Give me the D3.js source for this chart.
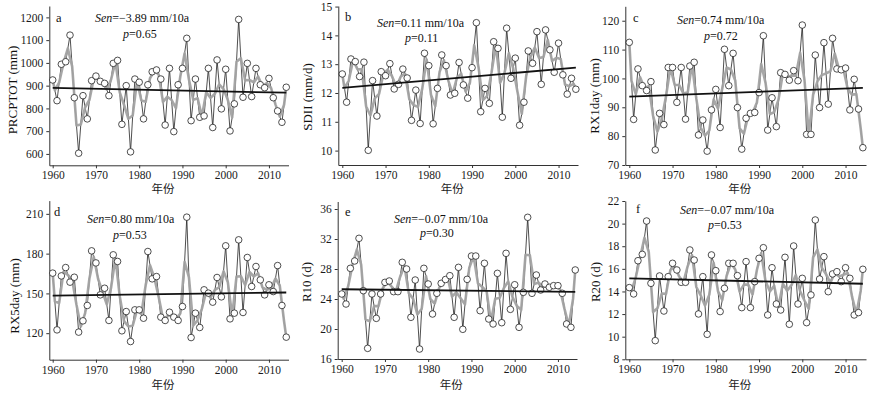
<!DOCTYPE html>
<html>
<head>
<meta charset="utf-8">
<script src="https://cdn.jsdelivr.net/npm/d3@7"></script>
<style>
  html, body { margin: 0; padding: 0; background: #fff; }
  svg { display: block; }
</style>
</head>
<body>
<div id="chart"></div>
<script>
// ---------------- data ----------------
const years = d3.range(1960, 2015);
const xTickYears = [1960, 1970, 1980, 1990, 2000, 2010];

const prcptot = [925, 834, 994, 1005, 1122, 847, 603, 856, 754, 922,
  942, 919, 910, 856, 998, 1011, 730, 900, 609, 929,
  915, 754, 904, 961, 969, 929, 727, 976, 698, 904,
  976, 1108, 746, 929, 761, 767, 976, 716, 1013, 798,
  972, 701, 820, 1191, 849, 998, 852, 976, 904, 891,
  932, 847, 789, 739, 893];
const sdii = [12.66, 11.68, 13.18, 13.09, 12.57, 13.07, 10.01, 12.43, 11.20, 12.74,
  12.60, 13.02, 12.14, 12.30, 12.83, 12.52, 11.05, 12.10, 10.94, 13.38,
  12.95, 10.93, 12.16, 13.32, 12.95, 11.93, 11.99, 13.06, 12.28, 11.82,
  12.88, 14.44, 11.35, 12.16, 11.64, 13.78, 13.55, 11.16, 14.25, 12.51,
  13.21, 10.88, 11.68, 13.46, 13.03, 14.13, 12.30, 14.19, 13.50, 12.72,
  13.73, 12.63, 11.96, 12.51, 12.13];
const rx1day = [112.5, 85.8, 103.3, 97.5, 95.8, 98.9, 75.2, 87.9, 84.0, 103.8,
  103.8, 91.7, 103.8, 85.9, 104.3, 105.6, 80.4, 85.6, 74.8, 89.1,
  96.2, 83.0, 110.1, 97.5, 108.7, 89.9, 75.5, 86.2, 87.9, 88.2,
  95.1, 114.8, 82.1, 93.3, 83.3, 102.0, 101.4, 99.4, 102.7, 99.2,
  118.5, 80.6, 80.6, 108.1, 89.9, 112.4, 91.1, 113.9, 103.3, 103.0,
  103.6, 89.1, 99.7, 89.4, 76.0];
const rx5day = [165.3, 122.5, 163.2, 169.5, 158.5, 162.2, 120.8, 129.3, 140.9, 182.1,
  173.0, 148.9, 153.9, 129.6, 179.1, 174.1, 121.8, 136.3, 113.7, 137.6,
  137.6, 131.3, 181.6, 161.0, 162.7, 132.1, 129.6, 135.8, 132.1, 129.6,
  140.1, 207.5, 116.7, 135.1, 124.3, 152.7, 150.2, 143.4, 162.0, 147.4,
  185.9, 130.8, 135.1, 190.4, 135.6, 177.1, 155.2, 170.3, 160.2, 148.9,
  156.5, 151.4, 171.0, 140.9, 117.0];
const r10 = [24.67, 23.33, 28.09, 29.07, 32.09, 25.11, 17.42, 24.67, 21.42, 24.67,
  26.22, 26.40, 24.98, 24.98, 28.89, 28.00, 21.56, 26.53, 17.33, 28.09,
  26.00, 22.00, 24.76, 26.09, 26.60, 27.11, 21.56, 28.22, 19.96, 26.62,
  29.73, 29.73, 22.44, 28.76, 21.33, 20.67, 27.42, 20.84, 30.09, 22.62,
  25.90, 20.22, 24.89, 34.89, 24.76, 27.20, 25.20, 26.00, 25.56, 25.78,
  25.78, 24.76, 20.67, 20.22, 27.87];
const r20 = [14.34, 13.78, 16.72, 17.28, 20.23, 14.72, 9.65, 15.37, 12.27, 15.31,
  16.49, 15.90, 14.81, 14.81, 17.67, 16.78, 12.01, 15.31, 10.21, 17.23,
  15.84, 12.22, 14.28, 16.49, 16.49, 15.40, 12.57, 16.64, 12.57, 14.87,
  16.93, 17.87, 11.92, 16.10, 12.89, 12.36, 17.02, 11.10, 18.02, 12.89,
  15.16, 11.24, 13.69, 20.32, 15.10, 17.08, 13.98, 15.55, 15.75, 14.87,
  16.10, 15.16, 11.92, 12.13, 15.96];

const seriesList = [prcptot, sdii, rx1day, rx5day, r10, r20];
const panelLetters = ["a", "b", "c", "d", "e", "f"];
const yTitles = ["PRCPTOT (mm)", "SDII (mm/d)", "RX1day (mm)", "RX5day (mm)", "R10 (d)", "R20 (d)"];
const senValues = ["\u22123.89", "0.11", "0.74", "0.80", "\u22120.07", "\u22120.07"];
const pValues = ["0.65", "0.11", "0.72", "0.53", "0.30", "0.53"];
// Sen trend line values at 1960 and 2014
const trendEnds = [[890, 869], [12.18, 12.88], [93.7, 96.7], [148.3, 150.7], [25.3, 24.95], [15.15, 14.68]];
const yDomains = [[550, 1250], [9.5, 15.02], [70, 125], [100, 220], [16, 37], [8, 22]];
const yTicks = [
  [600, 700, 800, 900, 1000, 1100, 1200],
  [10, 11, 12, 13, 14, 15],
  [70, 80, 90, 100, 110, 120],
  [120, 150, 180, 210],
  [16, 20, 24, 28, 32, 36],
  [8, 10, 12, 14, 16, 18, 20, 22]
];
const xLabel = "年份";

// ---------------- layout ----------------
const W = 873, H = 394;
const ppy = 4.325;
const layout = [
  {left: 49.3, x0: 52.7, right: 288.5, top: 6, bottom: 165.3, titleX: 12.5, titleY: 90,
   letter: [56, 22], sen: [95, 21.5], p: [123, 37.5], xl: 189},
  {left: 338.3, x0: 342.3, right: 578, top: 6, bottom: 165, titleX: 307, titleY: 97,
   letter: [345, 21], sen: [377, 26.5], p: [405, 42], xl: 189},
  {left: 625.3, x0: 629.3, right: 866, top: 6.3, bottom: 165, titleX: 594, titleY: 96,
   letter: [633, 22], sen: [677, 24], p: [704, 40], xl: 189},
  {left: 49.3, x0: 52.7, right: 288.5, top: 200.6, bottom: 359.7, titleX: 14, titleY: 296,
   letter: [54, 216], sen: [87, 222.5], p: [113, 239], xl: 385},
  {left: 337.7, x0: 341.7, right: 577, top: 201.5, bottom: 359, titleX: 306, titleY: 282,
   letter: [345, 216], sen: [394, 222.5], p: [420, 236.5], xl: 385},
  {left: 625.3, x0: 629.3, right: 866, top: 201, bottom: 359.3, titleX: 595, titleY: 282,
   letter: [636, 213], sen: [680, 213.5], p: [708, 228.5], xl: 385}
];

const serif = "'Liberation Serif', 'Times New Roman', serif";
const cjk = "'Noto Sans CJK SC', 'Noto Sans CJK JP', sans-serif";

const svg = d3.select("#chart").append("svg")
  .attr("width", W).attr("height", H)
  .style("background", "#fff");

seriesList.forEach((vals, i) => {
  const L = layout[i];
  const xd0 = 1960 - (L.x0 - L.left) / ppy;
  const xd1 = 1960 + (L.right - L.x0) / ppy;
  const x = d3.scaleLinear().domain([xd0, xd1]).range([L.left, L.right]);
  const y = d3.scaleLinear().domain(yDomains[i]).range([L.bottom, L.top]);
  const g = svg.append("g");

  const pts = years.map((yr, k) => ({year: yr, v: vals[k]}));
  // two-year running mean of the plotted values (grey smoothed curve)
  const smooth = [pts[0]];
  for (let k = 0; k < pts.length - 1; k++) {
    smooth.push({year: pts[k].year + 0.5, v: (pts[k].v + pts[k + 1].v) / 2});
  }
  smooth.push(pts[pts.length - 1]);

  const line = d3.line().x(d => x(d.year)).y(d => y(d.v));

  // axes
  const xa = g.append("g").attr("transform", `translate(0,${L.bottom})`)
    .call(d3.axisBottom(x).tickValues(xTickYears).tickFormat(d3.format("d"))
      .tickSize(3).tickSizeOuter(0).tickPadding(3));
  const ya = g.append("g").attr("transform", `translate(${L.left},0)`)
    .call(d3.axisLeft(y).tickValues(yTicks[i]).tickFormat(d3.format("d"))
      .tickSize(3).tickSizeOuter(0).tickPadding(3));
  [xa, ya].forEach(a => {
    a.attr("font-family", serif).attr("font-size", 11.5);
    a.select(".domain").attr("stroke", "#333").attr("stroke-width", 1);
    a.selectAll(".tick line").attr("stroke", "#333").attr("stroke-width", 1);
    a.selectAll(".tick text").attr("fill", "#1a1a1a");
  });

  // thin black line connecting observations
  g.append("path").datum(pts).attr("d", line)
    .attr("fill", "none").attr("stroke", "#222").attr("stroke-width", 0.8);
  // grey smoothed line
  g.append("path").datum(smooth).attr("d", line)
    .attr("fill", "none").attr("stroke", "#a2a2a2").attr("stroke-width", 2.6)
    .attr("stroke-linejoin", "round").attr("opacity", 0.95);
  // circles
  g.selectAll("circle.pt").data(pts).join("circle").attr("class", "pt")
    .attr("cx", d => x(d.year)).attr("cy", d => y(d.v)).attr("r", 3.3)
    .attr("fill", "#fff").attr("stroke", "#222").attr("stroke-width", 0.8);
  // Sen trend
  const tr = [{year: 1960, v: trendEnds[i][0]}, {year: 2014, v: trendEnds[i][1]}];
  g.append("path").datum(tr).attr("d", line)
    .attr("fill", "none").attr("stroke", "#111").attr("stroke-width", 1.8);

  // panel letter
  g.append("text").attr("x", L.letter[0]).attr("y", L.letter[1])
    .attr("font-family", serif).attr("font-size", 12.5).attr("fill", "#111")
    .text(panelLetters[i]);
  // Sen text
  const st = g.append("text").attr("x", L.sen[0]).attr("y", L.sen[1])
    .attr("font-family", serif).attr("font-size", 12).attr("fill", "#111");
  st.append("tspan").attr("font-style", "italic").text("Sen");
  st.append("tspan").text("=" + senValues[i] + " mm/10a");
  const pt = g.append("text").attr("x", L.p[0]).attr("y", L.p[1])
    .attr("font-family", serif).attr("font-size", 12).attr("fill", "#111");
  pt.append("tspan").attr("font-style", "italic").text("p");
  pt.append("tspan").text("=" + pValues[i]);

  // y title
  g.append("text")
    .attr("transform", `translate(${L.titleX},${L.titleY}) rotate(-90)`)
    .attr("text-anchor", "middle").attr("dy", "0.35em")
    .attr("font-family", serif).attr("font-size", 13).attr("fill", "#111")
    .text(yTitles[i]);
  // x title
  g.append("text")
    .attr("x", (L.left + L.right) / 2 - 6).attr("y", L.xl)
    .attr("text-anchor", "middle").attr("dy", "0.35em")
    .attr("font-family", cjk).attr("font-size", 11.5).attr("fill", "#222")
    .text(xLabel);
});
</script>
</body>
</html>
